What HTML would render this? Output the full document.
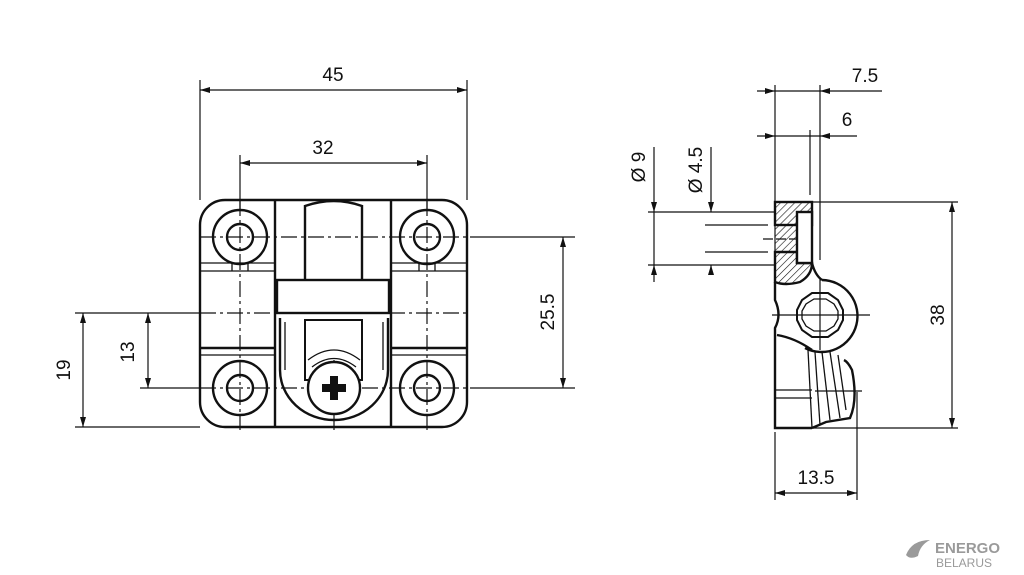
<!DOCTYPE html>
<html><head><meta charset="utf-8"><style>
html,body{margin:0;padding:0;background:#fff;}
svg{display:block}
text{font-family:"Liberation Sans",sans-serif;fill:#111}
</style></head><body>
<svg width="1024" height="575" viewBox="0 0 1024 575" xmlns="http://www.w3.org/2000/svg">
<defs>
<marker id="a" viewBox="0 0 10 6" refX="10" refY="3" markerWidth="10" markerHeight="6" orient="auto-start-reverse" markerUnits="userSpaceOnUse"><path d="M0,0L10,3L0,6z" fill="#111"/></marker>
<pattern id="h" width="5" height="5" patternUnits="userSpaceOnUse" patternTransform="rotate(45)"><line x1="0" y1="0" x2="0" y2="5" stroke="#111" stroke-width="1.2"/></pattern>
</defs>
<g stroke="#111" fill="none">
<g stroke-width="1.2">
<line x1="200" y1="80" x2="200" y2="200"/><line x1="467" y1="80" x2="467" y2="200"/>
<line x1="200" y1="90" x2="467" y2="90" marker-start="url(#a)" marker-end="url(#a)"/>
<line x1="240" y1="155" x2="240" y2="210"/><line x1="427" y1="155" x2="427" y2="210"/>
<line x1="240" y1="163" x2="427" y2="163" marker-start="url(#a)" marker-end="url(#a)"/>
<line x1="470" y1="237" x2="575" y2="237"/><line x1="470" y1="388" x2="575" y2="388"/>
<line x1="563" y1="237" x2="563" y2="388" marker-start="url(#a)" marker-end="url(#a)"/>
<line x1="148" y1="313" x2="148" y2="388" marker-start="url(#a)" marker-end="url(#a)"/>
<line x1="83" y1="313" x2="83" y2="427" marker-start="url(#a)" marker-end="url(#a)"/>
<line x1="75" y1="313" x2="200" y2="313"/><line x1="75" y1="427" x2="200" y2="427"/>
<line x1="140" y1="388" x2="200" y2="388"/>
</g>
<g stroke-width="1.2" stroke-dasharray="16,4,3,4">
<line x1="200" y1="237" x2="470" y2="237"/><line x1="200" y1="313" x2="470" y2="313"/><line x1="200" y1="388" x2="470" y2="388"/>
<line x1="240" y1="200" x2="240" y2="430"/><line x1="427" y1="200" x2="427" y2="430"/>
<line x1="334" y1="360" x2="334" y2="432"/>
</g>
<g stroke-width="2.4">
<rect x="200" y="200" width="267" height="227" rx="25"/>
<line x1="275" y1="200" x2="275" y2="427"/><line x1="391" y1="200" x2="391" y2="427"/>
<line x1="305" y1="205" x2="305" y2="280"/><line x1="362" y1="205" x2="362" y2="280"/>
<path d="M305,206 Q334,196 362,206"/>
<rect x="277" y="280" width="112" height="33"/>
<line x1="200" y1="348" x2="275" y2="348"/><line x1="391" y1="348" x2="467" y2="348"/>
<path d="M280,318 L280,370 A54,50 0 0 0 388,370 L388,318"/>
<rect x="305" y="320" width="57" height="60" stroke-width="2"/>
<circle cx="240" cy="237" r="27"/><circle cx="240" cy="237" r="13"/>
<circle cx="427" cy="237" r="27"/><circle cx="427" cy="237" r="13"/>
<circle cx="240" cy="388" r="27"/><circle cx="240" cy="388" r="13"/>
<circle cx="427" cy="388" r="27"/><circle cx="427" cy="388" r="13"/>
<circle cx="334" cy="388" r="26" fill="#fff"/>
</g>
<g stroke-width="1.3">
<line x1="200" y1="263" x2="275" y2="263"/><line x1="200" y1="271" x2="275" y2="271"/>
<line x1="391" y1="263" x2="467" y2="263"/><line x1="391" y1="271" x2="467" y2="271"/>
<line x1="200" y1="355" x2="275" y2="355"/><line x1="391" y1="355" x2="467" y2="355"/>
<path d="M308,360 Q334,340 360,360"/><path d="M312,367 Q334,350 356,367"/>
<line x1="285" y1="322" x2="285" y2="370"/><line x1="383" y1="322" x2="383" y2="370"/>
<line x1="232" y1="263" x2="232" y2="271"/><line x1="248" y1="263" x2="248" y2="271"/>
<line x1="419" y1="263" x2="419" y2="271"/><line x1="435" y1="263" x2="435" y2="271"/>
</g>
<path d="M330,376h8v8h8v8h-8v8h-8v-8h-8v-8h8z" fill="#111" stroke="none"/>

<!-- SIDE VIEW -->
<g stroke-width="1.2">
<line x1="775" y1="85" x2="775" y2="202"/><line x1="820" y1="85" x2="820" y2="260"/>
<line x1="757" y1="91" x2="775" y2="91" marker-end="url(#a)"/><line x1="775" y1="91" x2="820" y2="91"/>
<line x1="882" y1="91" x2="820" y2="91" marker-end="url(#a)"/>
<line x1="757" y1="136" x2="775" y2="136" marker-end="url(#a)"/><line x1="775" y1="136" x2="820" y2="136"/>
<line x1="857" y1="136" x2="820" y2="136" marker-end="url(#a)"/>
<line x1="810" y1="130" x2="810" y2="195"/>
<line x1="812" y1="202" x2="958" y2="202"/><line x1="775" y1="428" x2="958" y2="428"/>
<line x1="952" y1="202" x2="952" y2="428" marker-start="url(#a)" marker-end="url(#a)"/>
<line x1="648" y1="212" x2="775" y2="212"/><line x1="648" y1="265" x2="775" y2="265"/>
<line x1="654" y1="147" x2="654" y2="212" marker-end="url(#a)"/><line x1="654" y1="282" x2="654" y2="265" marker-end="url(#a)"/>
<line x1="654" y1="212" x2="654" y2="265"/>
<line x1="711" y1="147" x2="711" y2="212" marker-end="url(#a)"/><line x1="711" y1="270" x2="711" y2="265" marker-end="url(#a)"/>
<line x1="705" y1="225" x2="768" y2="225"/><line x1="705" y1="252" x2="768" y2="252"/>
<line x1="763" y1="239" x2="798" y2="239" stroke-dasharray="10,3"/>
<line x1="775" y1="432" x2="775" y2="500"/><line x1="857" y1="392" x2="857" y2="500"/>
<line x1="775" y1="493" x2="857" y2="493" marker-start="url(#a)" marker-end="url(#a)"/>
<line x1="772" y1="315" x2="870" y2="315"/><line x1="820" y1="278" x2="820" y2="350"/>
<line x1="815" y1="391" x2="862" y2="391"/>
</g>
<g stroke-width="2.4">
<rect x="775" y="202" width="37" height="23" fill="url(#h)"/>
<path d="M775,252 L797,252 L797,263 L812,263 Q812,275 800,282 Q785,286 775,282 Z" fill="url(#h)"/>
<rect x="775" y="225" width="22" height="27" fill="url(#h)" stroke-width="1.2"/>
<rect x="797" y="212" width="15" height="51" fill="#fff"/>
<path d="M775,282 L775,300 Q782,315 775,328 L775,428 L812,428"/>
<path d="M812,263 Q815,275 822,280"/>
<path d="M822,280 A36,36 0 1 1 805,348"/>
<path d="M777,335 Q795,338 812,350"/>
<polygon points="828,293 838,300 843,310 843,320 838,330 828,337 812,337 802,330 797,320 797,310 802,300 812,293" stroke-width="2"/>
<polygon points="826,299 834,304 838,311 838,319 834,326 826,331 814,331 806,326 802,319 802,311 806,304 814,299" stroke-width="1.3"/>
<path d="M812,428 L826,422 L850,418 Q858,400 852,370 Q848,362 844,360"/>
</g>
<g stroke-width="1.3">
<line x1="775" y1="390" x2="812" y2="390"/><line x1="775" y1="398" x2="812" y2="398"/>
<path d="M808,350 L812,428"/><path d="M815,352 L820,425"/><path d="M822,352 L830,420"/><path d="M830,352 L840,418"/><path d="M838,355 L846,410"/>
</g>
</g>
<text x="333" y="81" font-size="19" text-anchor="middle">45</text>
<text x="323" y="154" font-size="19" text-anchor="middle">32</text>
<text x="0" y="0" font-size="19" text-anchor="middle" transform="translate(554,312) rotate(-90)">25.5</text>
<text x="0" y="0" font-size="19" text-anchor="middle" transform="translate(134,352) rotate(-90)">13</text>
<text x="0" y="0" font-size="19" text-anchor="middle" transform="translate(70,370) rotate(-90)">19</text>
<text x="865" y="82" font-size="19" text-anchor="middle">7.5</text>
<text x="847" y="126" font-size="19" text-anchor="middle">6</text>
<text x="0" y="0" font-size="19" text-anchor="middle" transform="translate(944,315) rotate(-90)">38</text>
<text x="816" y="484" font-size="19" text-anchor="middle">13.5</text>
<text x="0" y="0" font-size="19" text-anchor="middle" transform="translate(645,167) rotate(-90)">Ø 9</text>
<text x="0" y="0" font-size="19" text-anchor="middle" transform="translate(702,170) rotate(-90)">Ø 4.5</text>
<g fill="#9a9a9a">
<path d="M906,555 Q912,540 930,540 Q920,545 918,556 Q910,560 906,555z"/>
<text x="935" y="553" font-size="15" font-weight="bold" style="fill:#9a9a9a">ENERGO</text>
<text x="936" y="567" font-size="12" style="fill:#9a9a9a">BELARUS</text>
</g>
</svg>
</body></html>
